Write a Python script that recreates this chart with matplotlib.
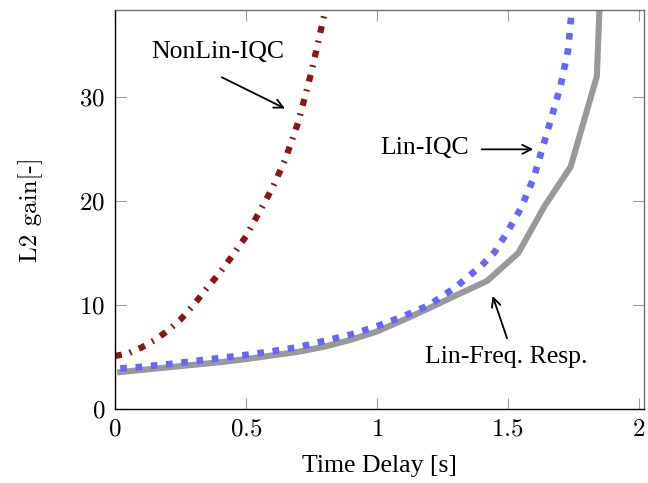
import matplotlib
matplotlib.use("Agg")
import matplotlib.pyplot as plt
from matplotlib.ticker import FuncFormatter

plt.rcParams["font.family"] = ["Liberation Serif", "DejaVu Serif"]
plt.rcParams["mathtext.fontset"] = "cm"

# NonLin-IQC
nl_x = [0.0, 0.05, 0.1, 0.15, 0.2, 0.25, 0.3, 0.35, 0.4, 0.45, 0.5, 0.55,
        0.6, 0.65, 0.7, 0.75, 0.8, 0.85]
nl_y = [5.1, 5.35, 5.9, 6.6, 7.5, 8.6, 10.0, 11.6, 13.1, 14.8, 16.6, 18.9,
        21.2, 24.0, 27.6, 32.4, 38.0, 44.0]

# Lin-IQC
li_x = [0.02, 0.1, 0.2, 0.3, 0.4, 0.5, 0.6, 0.7, 0.8, 0.9, 1.0, 1.1, 1.2,
        1.3, 1.4, 1.45, 1.5, 1.55, 1.6, 1.65, 1.7, 1.73, 1.75]
li_y = [3.9, 4.05, 4.3, 4.6, 4.9, 5.2, 5.55, 5.95, 6.55, 7.15, 7.95, 8.9,
        10.0, 11.7, 13.8, 15.1, 17.1, 19.3, 22.3, 26.6, 30.9, 34.5, 40.0]

# Lin-Freq. Resp.
fr_x = [0.02, 0.1, 0.2, 0.3, 0.4, 0.5, 0.6, 0.7, 0.8, 0.9, 1.0, 1.1, 1.2,
        1.3, 1.42, 1.54, 1.64, 1.74, 1.84, 1.86]
fr_y = [3.55, 3.75, 4.0, 4.25, 4.5, 4.8, 5.15, 5.5, 6.0, 6.65, 7.45, 8.55,
        9.7, 10.9, 12.3, 15.0, 19.5, 23.3, 32.0, 45.0]

xticks = [0, 0.5, 1, 1.5, 2]
yticks = [0, 10, 20, 30]

fig = plt.figure(figsize=(6.48, 4.83), dpi=100)
ax = fig.add_axes([0.1775, 0.1532, 0.8163, 0.8261])

ax.plot(fr_x, fr_y, color="#999999", lw=4.4, solid_joinstyle="miter")
ax.plot(li_x, li_y, color="#6666ff", lw=4.8, linestyle=(0, (1.0, 1.3)))
ax.plot(nl_x, nl_y, color="#8b1515", lw=4.5,
        linestyle=(0, (1.1, 1.3, 0.3, 1.3)))

ax.set_xlim(0, 2.02)
ax.set_ylim(0, 38.37)
ax.set_xticks(xticks)
ax.set_yticks(yticks)
fmt = FuncFormatter(lambda v, p: "$%g$" % v)
ax.xaxis.set_major_formatter(fmt)
ax.yaxis.set_major_formatter(fmt)
ax.tick_params(direction="in", length=8, width=0.8, color="#999999",
               labelsize=18, top=True, right=True)
ax.tick_params(axis="x", pad=7)
ax.tick_params(axis="y", pad=7)
for s in ["left", "bottom"]:
    ax.spines[s].set_color("black")
for s in ["top", "right"]:
    ax.spines[s].set_color("#707070")
for s in ax.spines.values():
    s.set_linewidth(1.0)

ax.set_xlabel("Time Delay [s]", fontsize=18.5, labelpad=10)
ax.set_ylabel("L2 gain[-]", fontsize=18, fontname="cmr10", labelpad=26)

arr = dict(arrowstyle="->", color="black", lw=1.3, shrinkA=0, shrinkB=0,
           mutation_scale=16)
ax.text(0.393, 34.3, "NonLin-IQC", fontsize=18.5, ha="center", va="center")
ax.annotate("", xy=(0.649, 28.9), xytext=(0.408, 31.9), arrowprops=arr)
ax.text(1.183, 25.1, "Lin-IQC", fontsize=18.5, ha="center", va="center")
ax.annotate("", xy=(1.597, 24.97), xytext=(1.40, 24.97), arrowprops=arr)
ax.text(1.495, 5.03, "Lin-Freq. Resp.", fontsize=18.5, ha="center", va="center")
ax.annotate("", xy=(1.442, 10.87), xytext=(1.497, 6.8), arrowprops=arr)

fig.savefig("out.png", dpi=100)
